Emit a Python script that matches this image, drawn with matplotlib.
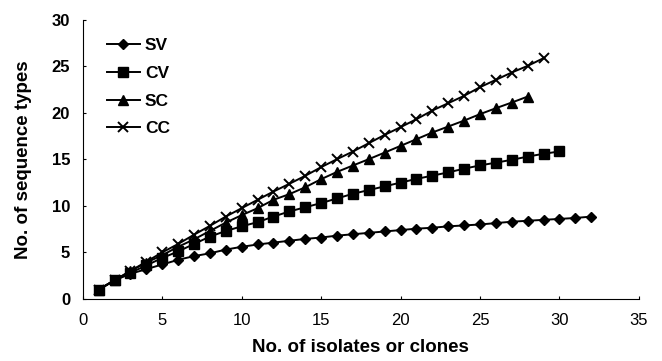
import matplotlib
matplotlib.use("Agg")
import matplotlib.pyplot as plt

plt.rcParams['font.family'] = ['Liberation Sans', 'DejaVu Sans']

# number of isolates or clones sampled
x_sv = list(range(1, 33))
x_cv = list(range(1, 31))
x_sc = list(range(1, 29))
x_cc = list(range(1, 30))

sv = [1, 2, 2.7, 3.2, 3.7, 4.2, 4.6, 4.9, 5.3, 5.6, 5.85, 6.05, 6.25, 6.45, 6.6, 6.8,
      6.95, 7.1, 7.25, 7.4, 7.55, 7.65, 7.8, 7.9, 8.0, 8.15, 8.3, 8.4, 8.5, 8.6, 8.7, 8.85]
cv = [1, 2, 2.8, 3.6, 4.4, 5.1, 5.9, 6.7, 7.3, 7.8, 8.25, 8.85, 9.4, 9.85, 10.3,
      10.8, 11.3, 11.7, 12.1, 12.5, 12.9, 13.25, 13.6, 14.0, 14.35, 14.65, 14.95, 15.3, 15.6, 15.85]
sc = [1, 2, 3, 3.9, 4.7, 5.6, 6.4, 7.3, 8.2, 9.0, 9.75, 10.65, 11.26, 12.0, 12.87,
      13.65, 14.34, 15.02, 15.73, 16.45, 17.17, 17.89, 18.53, 19.17, 19.86, 20.5, 21.11, 21.75]
cc = [1, 2, 3, 4, 5, 5.9, 6.9, 7.85, 8.85, 9.75, 10.65, 11.54, 12.37, 13.23, 14.16,
      15.02, 15.84, 16.74, 17.63, 18.46, 19.32, 20.25, 21.04, 21.83, 22.76, 23.55, 24.34, 25.05, 25.88]

fig = plt.figure(figsize=(6.62, 3.61), dpi=100)
ax = fig.add_axes([0.125, 0.172, 0.84, 0.773])

ax.plot(x_sv, sv, '-D', color='black', lw=1.4, ms=5.5, label='SV')
ax.plot(x_cv, cv, '-s', color='black', lw=1.4, ms=6.5, label='CV')
ax.plot(x_sc, sc, '-^', color='black', lw=1.4, ms=6.5, label='SC')
ax.plot(x_cc, cc, '-x', color='black', lw=1.4, ms=7.5, mew=1.4, label='CC')

ax.set_xlim(0, 35)
ax.set_ylim(0, 30)
ax.set_xticks(range(0, 36, 5))
ax.set_yticks(range(0, 31, 5))
ax.spines['top'].set_visible(False)
ax.spines['right'].set_visible(False)
ax.tick_params(direction='in', length=2, labelsize=12)
for t in ax.get_yticklabels():
    t.set_fontweight('bold')
ax.tick_params(axis='x', pad=10)
ax.tick_params(axis='y', pad=9)

ax.set_xlabel('No. of isolates or clones', fontsize=13.5, fontweight='bold', labelpad=8)
ax.set_ylabel('No. of sequence types', fontsize=13.5, fontweight='bold', labelpad=14)

leg = ax.legend(loc='upper left', frameon=False, prop={'weight': 'bold', 'size': 12.5},
                handlelength=1.9, handletextpad=0.3, labelspacing=0.72,
                bbox_to_anchor=(0.015, 0.99))

fig.savefig('out.png', dpi=100)
